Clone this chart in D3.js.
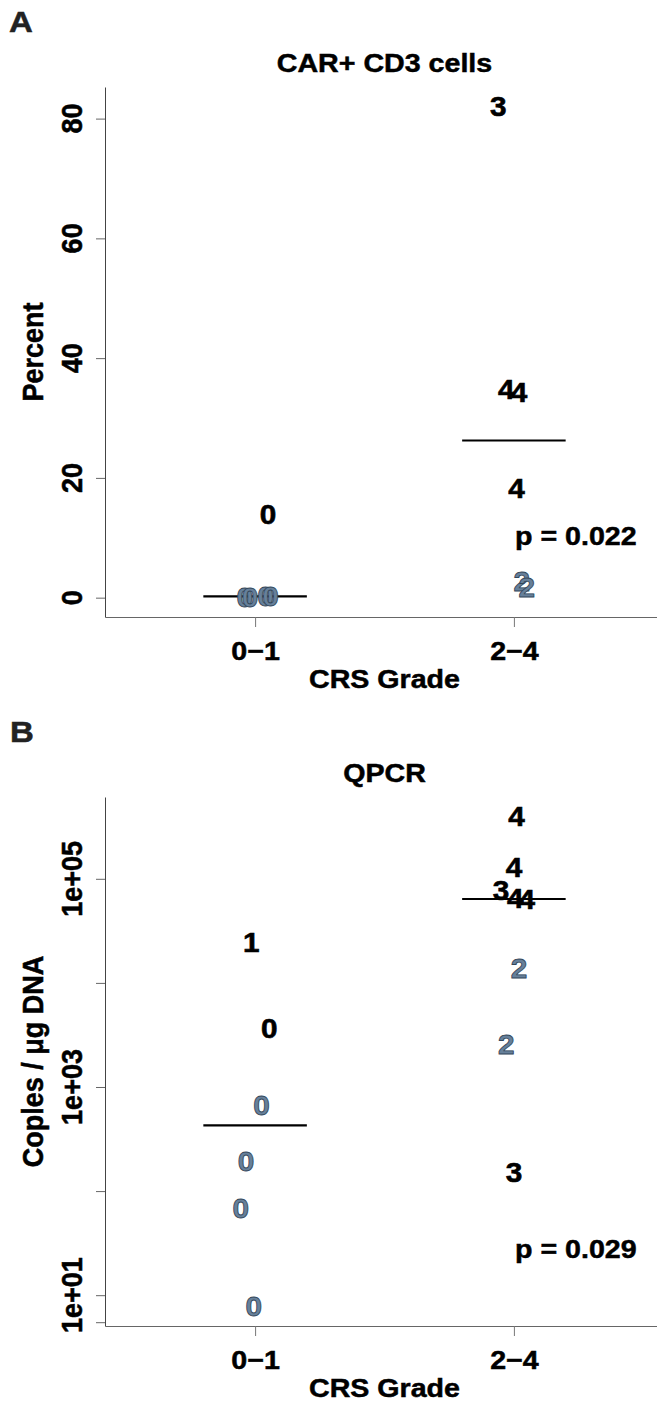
<!DOCTYPE html>
<html>
<head>
<meta charset="utf-8">
<script src="https://cdn.jsdelivr.net/npm/d3@7"></script>
<style>
  body { margin: 0; background: #fff; }
  text { font-family: "Liberation Sans", Arial, sans-serif; font-weight: bold; }
  .heavy { stroke: #000; stroke-width: 0.5px; }
</style>
</head>
<body>
<svg id="fig"></svg>
<script>
////////////////////////////////////////////////////////////////////////
// Data

// x categories (CRS grade)
let groups = ["0\u22121", "2\u22124"];

// Panel A : CAR+ CD3 cells (percent)
let carValues = [14, 0.05, 0.1, 0.2, 0.3, 82, 34.8, 34.3, 18.2, 2.7, 1.8];
let carGroup  = [0, 0, 0, 0, 0, 1, 1, 1, 1, 1, 1];
let carLabels = ["0", "0", "0", "0", "0", "3", "4", "4", "4", "2", "2"];
let carJitter = [0.05, -0.04, -0.02, 0.04, 0.06, -0.06, -0.03, 0.02, 0.01, 0.03, 0.05];
let carGray   = [false, true, true, true, true, false, false, false, false, true, true];
let carTicks  = [0, 20, 40, 60, 80];

// Panel B : QPCR (copies / ug DNA)
let qpcrValues = [24600, 3700, 660, 195, 69, 7.8, 396000, 128000, 78000, 65000, 63000, 13800, 2600, 150];
let qpcrGroup  = [0, 0, 0, 0, 0, 0, 1, 1, 1, 1, 1, 1, 1, 1];
let qpcrLabels = ["1", "0", "0", "0", "0", "0", "4", "4", "3", "4", "4", "2", "2", "3"];
let qpcrJitter = [-0.015, 0.055, 0.025, -0.035, -0.055, -0.005, 0.01, 0, -0.05, 0.005, 0.05, 0.02, -0.03, 0];
let qpcrGray   = [false, false, true, true, true, true, false, false, false, false, false, true, true, false];
let qpcrTicks  = [5.5, 1e1, 1e2, 1e3, 1e4, 1e5];
let qpcrTickLabels = [1e1, 1e3, 1e5];

////////////////////////////////////////////////////////////////////////
// svg and shared scales

let width = 657, height = 1403;
let left = 105, right = 664;
let stretch = "scale(1.1,1)";

let svg = d3.select("#fig").attr("width", width).attr("height", height);

let xScale = d3.scaleLinear().domain([0.42, 2.58]).range([left, right]);

function logLabel(v) {
  let e = Math.round(Math.log10(v));
  return "1e+" + (e < 10 ? "0" : "") + e;
}

function panel(opt) {
  let g = svg.append("g");
  let vals = opt.values;
  let ext = d3.extent(vals, function(d) { return opt.log ? Math.log10(d) : d; });
  let pad = (ext[1] - ext[0]) * 0.04;
  let y;
  if (opt.log) {
    y = d3.scaleLog().domain([Math.pow(10, ext[0] - pad), Math.pow(10, ext[1] + pad)])
      .range([opt.bottom, opt.top]);
  } else {
    y = d3.scaleLinear().domain([ext[0] - pad, ext[1] + pad]).range([opt.bottom, opt.top]);
  }

  // panel letter
  g.append("text")
    .attr("transform", "translate(" + opt.letterX + "," + opt.letterY + ") " + stretch)
    .attr("font-size", 30).attr("fill", "#222")
    .attr("stroke", "#222").attr("stroke-width", 0.5)
    .text(opt.letter);

  // title
  g.append("text")
    .attr("class", "heavy")
    .attr("transform", "translate(" + ((left + right) / 2) + "," + (opt.top - 15) + ") " + stretch)
    .attr("text-anchor", "middle").attr("font-size", 26)
    .text(opt.title);

  // y axis
  let yAxis = d3.axisLeft(y).tickValues(opt.ticks).tickSize(9).tickSizeOuter(0).tickFormat("");
  let ya = g.append("g").attr("transform", "translate(" + left + ",0)").call(yAxis);
  ya.select(".domain").attr("stroke", "#444");
  ya.selectAll(".tick line").attr("stroke", "#666");

  g.selectAll(".ylab")
    .data(opt.tickLabels).enter()
    .append("text")
    .attr("class", "ylab heavy")
    .attr("transform", function(d) { return "translate(82," + y(d) + ") " + stretch + " rotate(-90)"; })
    .attr("text-anchor", "middle").attr("font-size", 27)
    .text(opt.log ? logLabel : function(d) { return d; });

  // x axis
  let xAxis = d3.axisBottom(xScale).tickValues([1, 2]).tickSize(10).tickSizeOuter(0).tickPadding(15)
    .tickFormat(function(d) { return groups[d - 1]; });
  let xa = g.append("g").attr("transform", "translate(0," + opt.bottom + ")").call(xAxis);
  xa.select(".domain").attr("stroke", "#666");
  xa.selectAll(".tick line").attr("stroke", "#777");
  xa.selectAll(".tick text")
    .attr("class", "heavy")
    .attr("font-size", 26).attr("font-family", null).attr("fill", "#000")
    .attr("transform", stretch);

  // axis titles
  g.append("text")
    .attr("class", "heavy")
    .attr("transform", "translate(" + ((left + right) / 2) + "," + (opt.bottom + 71) + ") " + stretch)
    .attr("text-anchor", "middle").attr("font-size", 26)
    .text("CRS Grade");
  g.append("text")
    .attr("class", "heavy")
    .attr("transform", "translate(43," + ((opt.top + opt.bottom) / 2) + ") " + stretch + " rotate(-90)")
    .attr("text-anchor", "middle").attr("font-size", 27)
    .text(opt.ylabel);

  // median lines
  groups.forEach(function(name, gi) {
    let m = d3.median(vals.filter(function(v, i) { return opt.group[i] === gi; }));
    g.append("line")
      .attr("x1", xScale(gi + 1 - 0.2)).attr("x2", xScale(gi + 1 + 0.2))
      .attr("y1", y(m)).attr("y2", y(m))
      .attr("stroke", "#000").attr("stroke-width", 2.2);
  });

  // points drawn as grade labels
  g.selectAll(".pt")
    .data(vals.map(function(v, i) { return i; })).enter()
    .append("text")
    .attr("class", "pt")
    .attr("transform", function(i) {
      return "translate(" + xScale(opt.group[i] + 1 + opt.jitter[i]) + "," + y(vals[i]) + ") " + stretch;
    })
    .attr("dy", "0.36em")
    .attr("text-anchor", "middle").attr("font-size", 27)
    .attr("fill", function(i) { return opt.gray[i] ? "#66809a" : "#000"; })
    .attr("stroke", function(i) { return opt.gray[i] ? "#34475a" : "#000"; })
    .attr("stroke-width", function(i) { return opt.gray[i] ? 0.8 : 0.6; })
    .text(function(i) { return opt.labels[i]; });

  // p value
  g.append("text")
    .attr("class", "heavy")
    .attr("transform", "translate(515," + opt.pY + ") " + stretch)
    .attr("font-size", 26)
    .text(opt.p);
}

panel({
  letter: "A", letterX: 9, letterY: 32,
  title: "CAR+ CD3 cells", ylabel: "Percent",
  top: 87, bottom: 617, log: false,
  values: carValues, group: carGroup, labels: carLabels, jitter: carJitter, gray: carGray,
  ticks: carTicks, tickLabels: carTicks,
  p: "p = 0.022", pY: 545
});

panel({
  letter: "B", letterX: 10, letterY: 742,
  title: "QPCR", ylabel: "Coples / \u03bcg DNA",
  top: 797, bottom: 1326, log: true,
  values: qpcrValues, group: qpcrGroup, labels: qpcrLabels, jitter: qpcrJitter, gray: qpcrGray,
  ticks: qpcrTicks, tickLabels: qpcrTickLabels,
  p: "p = 0.029", pY: 1258
});
</script>
</body>
</html>
